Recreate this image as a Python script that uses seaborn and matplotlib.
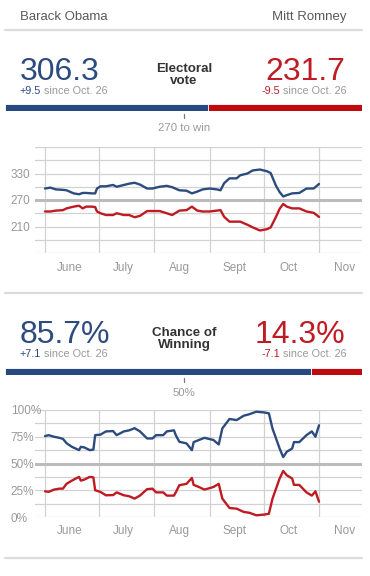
import pandas as pd
import matplotlib
matplotlib.use("Agg")
import matplotlib.pyplot as plt
import matplotlib.transforms as mtrans
from matplotlib.lines import Line2D
import seaborn as sns

# ── data ──────────────────────────────────────────────────────────────────────
candidates = ["Barack Obama", "Mitt Romney"]
ev_now     = [306.3, 231.7]
ev_change  = ["+9.5", "-9.5"]
win_now    = [85.7, 14.3]
win_change = ["+7.1", "-7.1"]
since_txt  = "since Oct. 26"

START = pd.Timestamp("2012-06-01")

# electoral vote forecast (days after June 1)
ev_days = [0, 3, 6, 10, 12, 16, 19, 21, 23, 26, 28, 29, 31, 34, 38, 40, 44, 47,
           50, 53, 57, 60, 64, 68, 71, 75, 79, 82, 85, 88, 92, 96, 98, 100, 103,
           107, 109, 113, 116, 120, 124, 126, 129, 131, 133, 135, 138, 142, 146,
           150, 153]
ev_obama = [296, 298, 294, 293, 292, 285, 283, 286, 286, 285, 285, 296, 301, 301,
            304, 300, 304, 307, 309, 305, 296, 296, 300, 302, 299, 292, 291, 285,
            289, 294, 296, 294, 292, 308, 319, 319, 326, 330, 337, 339, 335, 331,
            302, 288, 278, 281, 285, 286, 296, 296, 306.3]
ev_romney = [244, 244, 246, 247, 251, 255, 257, 251, 255, 255, 254, 244, 240, 236,
             236, 240, 236, 236, 231, 234, 245, 245, 245, 240, 236, 246, 247, 255,
             246, 244, 244, 246, 247, 232, 221, 221, 221, 214, 208, 201, 204, 208,
             232, 250, 261, 255, 251, 251, 244, 241, 231.7]

# chance of winning forecast (%)
win_days = [0, 2, 5, 8, 10, 12, 15, 19, 20, 22, 25, 27, 28, 31, 34, 38, 40, 44, 47,
            50, 53, 57, 60, 62, 66, 68, 72, 73, 75, 79, 82, 83, 86, 89, 94, 97, 99,
            103, 107, 111, 114, 118, 122, 125, 127, 131, 133, 135, 138, 139, 142,
            146, 149, 151, 153]
win_obama = [75.6, 76.5, 75, 74, 73, 69, 65.6, 62.5, 65.6, 65, 62.5, 63, 76.5, 77,
             80, 80.3, 76.5, 80, 81, 83, 80, 73.4, 73.4, 76.5, 76.5, 80, 81, 76.5,
             70.3, 68.8, 62.5, 70, 72, 74, 72, 67.8, 82.8, 91.6, 90.6, 94.7, 96,
             98.4, 97.8, 96.9, 82.8, 64, 56, 61, 64, 70, 70, 76.5, 80, 75, 85.7]
win_romney = [24, 23.5, 25.6, 26.5, 26.5, 31, 34, 37.5, 34, 35, 37.5, 37, 25, 23.4,
              20.3, 20.5, 23, 20.3, 19.4, 17.2, 20, 26, 26.5, 23, 23, 20, 20, 23,
              29.7, 31, 36.5, 30, 28, 25.6, 28, 31, 17.2, 8.4, 7.8, 4.7, 4, 1.6,
              2.2, 3, 17, 36, 43, 39, 36, 30, 30, 23, 20, 24, 14.3]

month_labels = ["June", "July", "Aug", "Sept", "Oct", "Nov"]
month_starts = ["2012-06-01", "2012-07-01", "2012-08-01", "2012-09-01",
                "2012-10-01", "2012-11-01"]
month_mids   = ["2012-06-15", "2012-07-15", "2012-08-15", "2012-09-15",
                "2012-10-15", "2012-11-15"]

ev_ticks   = list(range(150, 391, 30))
ev_labels  = ["", "", "210", "", "270", "", "330", "", ""]
win_ticks  = [0, 12.5, 25, 37.5, 50, 62.5, 75, 87.5, 100]
win_labels = ["0%", "", "25%", "", "50%", "", "75%", "", "100%"]

# ── style ─────────────────────────────────────────────────────────────────────
BLUE     = "#2c4b7e"
RED      = "#bf1b22"
BAR_BLUE = "#264a80"
BAR_RED  = "#c10a0e"
GRAY     = "#999999"
DARK     = "#5a5a5a"
GRID     = "#d2d2d2"

sns.set_style("white")
plt.rcParams["font.family"] = ["Liberation Sans", "DejaVu Sans"]

W, H = 370, 576
fig = plt.figure(figsize=(W / 100, H / 100), dpi=100)
fig.patch.set_facecolor("white")


def fx(x):
    return x / W


def fy(y):
    return 1 - y / H


def separator(y):
    fig.add_artist(Line2D([fx(5), fx(362)], [fy(y), fy(y)], color="#dcdcdc", lw=1.6))


def two_part(x, y, first, rest, first_color, right=False):
    # coloured change value next to grey "since ..." text
    size = 7.8
    if not right:
        t = fig.text(fx(x), fy(y), first, color=first_color, fontsize=size, va="baseline")
        fig.canvas.draw()
        bb = t.get_window_extent()
        fig.text(fx(x) + bb.width / W, fy(y), " " + rest, color=GRAY,
                 fontsize=size, va="baseline")
    else:
        t = fig.text(fx(x), fy(y), " " + rest, color=GRAY, fontsize=size,
                     va="baseline", ha="right")
        fig.canvas.draw()
        bb = t.get_window_extent()
        fig.text(fx(x) - bb.width / W, fy(y), first, color=first_color,
                 fontsize=size, va="baseline", ha="right")


def header(y_num, y_sub, values, changes, fmt, title, y_title):
    fig.text(fx(20), fy(y_num), fmt.format(values[0]), color=BLUE, fontsize=23,
             va="baseline", fontweight="light")
    fig.text(fx(345), fy(y_num), fmt.format(values[1]), color=RED, fontsize=23,
             va="baseline", ha="right", fontweight="light")
    two_part(20, y_sub, changes[0], since_txt, BLUE)
    two_part(347, y_sub, changes[1], since_txt, RED, right=True)
    # two-line bold title as one text block
    fig.text(fx(184), fy(y_title), title, color="#333333", fontsize=9.6,
             fontweight="bold", ha="center", va="top", linespacing=1.05,
             multialignment="center")


def split_bar(top, values, mark, mark_label, y_label):
    ax = fig.add_axes([fx(5), fy(top + 7), fx(362) - fx(5), 7 / H])
    total = sum(values)
    ax.barh(0, values[0], left=0, height=1, color=BAR_BLUE, edgecolor="white", lw=0.6)
    ax.barh(0, values[1], left=values[0], height=1, color=BAR_RED, edgecolor="white", lw=0.6)
    ax.set_xlim(0, total)
    ax.set_ylim(-0.5, 0.5)
    ax.axis("off")
    tr = mtrans.blended_transform_factory(ax.transData, fig.transFigure)
    ax.add_artist(Line2D([mark, mark], [fy(top + 10), fy(top + 14)], color="#777777",
                         lw=0.9, transform=tr, clip_on=False))
    ax.text(mark, fy(y_label), mark_label, color=GRAY, fontsize=8.2, ha="center",
            va="baseline", transform=tr, clip_on=False)


def panel(top, bottom, days, obama, romney, ylim, yticks, ylabels, midline, label_pad):
    ax = fig.add_axes([fx(35), fy(bottom), fx(362) - fx(35), (bottom - top) / H])
    dates = list(START + pd.to_timedelta(days, unit="D"))
    df = pd.DataFrame({
        "date":  dates + dates,
        "value": obama + romney,
        "who":   [candidates[0]] * len(days) + [candidates[1]] * len(days),
    })
    sns.lineplot(data=df, x="date", y="value", hue="who",
                 palette={candidates[0]: BLUE, candidates[1]: RED},
                 linewidth=1.7, legend=False, ax=ax, zorder=3)
    ax.set_xlim(START - pd.Timedelta(days=5.6), START + pd.Timedelta(days=177))
    ax.set_ylim(*ylim)
    ax.set_yticks(yticks)
    ax.set_yticklabels(ylabels, ha="left")
    ax.set_xticks(pd.to_datetime(month_starts))
    ax.set_xticklabels([])
    ax.set_xticks(pd.to_datetime(month_mids), minor=True)
    ax.set_xticklabels(month_labels, minor=True)
    ax.grid(True, which="major", color=GRID, lw=0.9)
    ax.axhline(midline, color="#bcbcbc", lw=2.2, zorder=2)
    for s in ax.spines.values():
        s.set_visible(False)
    ax.tick_params(axis="x", which="major", length=2.5, width=0.9, color=GRID)
    ax.tick_params(axis="x", which="minor", length=0, labelsize=8.5,
                   labelcolor=GRAY, pad=label_pad)
    ax.tick_params(axis="y", length=0, labelsize=8.5, labelcolor=GRAY, pad=17.5)
    ax.set_xlabel("")
    ax.set_ylabel("")
    return ax


# ── top names ─────────────────────────────────────────────────────────────────
fig.text(fx(20), fy(20), candidates[0], color=DARK, fontsize=9.5, va="baseline")
fig.text(fx(347), fy(20), candidates[1], color=DARK, fontsize=9.5, va="baseline", ha="right")
separator(30)

# ── electoral vote section ────────────────────────────────────────────────────
header(80, 94, ev_now, ev_change, "{:.1f}", "Electoral\nvote", 63)
split_bar(104, ev_now, 270, "270 to win", 131)
panel(147, 253, ev_days, ev_obama, ev_romney, (150, 390), ev_ticks, ev_labels, 270, 6.5)

separator(293)

# ── chance of winning section ─────────────────────────────────────────────────
header(343, 357, win_now, win_change, "{:.1f}%", "Chance of\nWinning", 327)
split_bar(368, win_now, 50, "50%", 396)
panel(410, 517, win_days, win_obama, win_romney, (0, 100), win_ticks, win_labels, 50, 6)

separator(558)

fig.savefig("out.png", dpi=100, facecolor="white")
